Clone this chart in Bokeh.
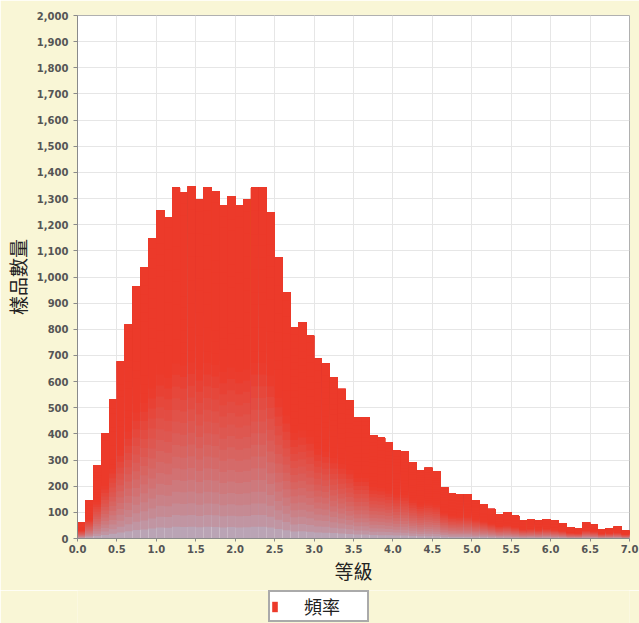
import numpy as np
from bokeh.plotting import figure
from bokeh.layouts import column
from bokeh.models import (ColumnDataSource, Legend, LegendItem, NumeralTickFormatter,
                          SingleIntervalTicker, Range1d)
from bokeh.embed import file_html
from bokeh.resources import INLINE

# ---- data ----
bin_left = [0.0, 0.1, 0.2, 0.3, 0.4, 0.5, 0.6, 0.7, 0.8, 0.9,
            1.0, 1.1, 1.2, 1.3, 1.4, 1.5, 1.6, 1.7, 1.8, 1.9,
            2.0, 2.1, 2.2, 2.3, 2.4, 2.5, 2.6, 2.7, 2.8, 2.9,
            3.0, 3.1, 3.2, 3.3, 3.4, 3.5, 3.6, 3.7, 3.8, 3.9,
            4.0, 4.1, 4.2, 4.3, 4.4, 4.5, 4.6, 4.7, 4.8, 4.9,
            5.0, 5.1, 5.2, 5.3, 5.4, 5.5, 5.6, 5.7, 5.8, 5.9,
            6.0, 6.1, 6.2, 6.3, 6.4, 6.5, 6.6, 6.7, 6.8, 6.9]
bin_width = 0.1
counts = [62, 145, 279, 401, 532, 678, 818, 965, 1038, 1148,
          1254, 1229, 1341, 1324, 1347, 1295, 1343, 1328, 1273, 1308,
          1273, 1295, 1343, 1343, 1248, 1076, 942, 808, 827, 776,
          687, 668, 617, 572, 528, 464, 464, 394, 387, 368,
          337, 334, 292, 260, 270, 256, 196, 173, 168, 168,
          147, 132, 113, 94, 100, 87, 71, 74, 68, 74,
          68, 58, 42, 40, 61, 53, 36, 40, 45, 30]
series_name = "頻率"
x_label = "等級"
y_label = "樣品數量"

# ---- styling ----
RED = np.array([236, 58, 42])
GRAY = np.array([178, 180, 202])
BG = "#F9F6D6"
N = 30

def hexcol(a):
    return "#%02x%02x%02x" % tuple(int(round(k)) for k in a)

L, R, B, T, C = [], [], [], [], []
for x0, v in zip(bin_left, counts):
    for i in range(N):
        fm = (i + 0.5) / N
        w = min(1.0, fm / 0.5) ** 0.6
        L.append(x0)
        R.append(x0 + bin_width)
        B.append(v * i / N)
        T.append(v)
        C.append(hexcol(GRAY + (RED - GRAY) * w))

src = ColumnDataSource(dict(left=L, right=R, bottom=B, top=T, color=C))

p = figure(width=639, height=590, x_range=Range1d(0, 7), y_range=Range1d(0, 2000),
           output_backend="svg", toolbar_location=None,
           min_border_left=77, min_border_right=10, min_border_top=15, min_border_bottom=52)
p.border_fill_color = BG
p.background_fill_color = "white"
p.outline_line_color = "#b0b0b0"

p.quad(left="left", right="right", bottom="bottom", top="top", fill_color="color",
       line_color=None, source=src)

p.xaxis.ticker = SingleIntervalTicker(interval=0.5, num_minor_ticks=0)
p.yaxis.ticker = SingleIntervalTicker(interval=100, num_minor_ticks=0)
p.xaxis.formatter = NumeralTickFormatter(format="0.0")
p.yaxis.formatter = NumeralTickFormatter(format="0,0")

for ax in (p.xaxis[0], p.yaxis[0]):
    ax.axis_line_color = "#8a8a8a"
    ax.major_tick_line_color = "#8a8a8a"
    ax.minor_tick_line_color = None
    ax.major_tick_in = 0
    ax.major_label_text_font = "DejaVu Sans"
    ax.major_label_text_font_style = "bold"
    ax.major_label_text_font_size = "10px"
    ax.major_label_text_color = "#555555"
    ax.axis_label_text_font = "Noto Sans CJK TC"
    ax.axis_label_text_font_style = "normal"
    ax.axis_label_text_font_size = "19px"
    ax.axis_label_text_color = "#222222"

p.xaxis.major_tick_out = 3
p.xaxis.major_label_standoff = 3
p.xaxis.axis_label_standoff = 1
p.yaxis.major_tick_out = 4
p.yaxis.major_label_standoff = 5
p.yaxis.axis_label_standoff = 3
p.xaxis.axis_label = x_label
p.yaxis.axis_label = y_label

p.xgrid.grid_line_color = "#e6e6e6"
p.ygrid.grid_line_color = "#e6e6e6"

# ---- legend strip below the chart ----
lg = figure(width=639, height=33, x_range=Range1d(0, 1), y_range=Range1d(0, 1),
            output_backend="svg", toolbar_location=None,
            x_axis_location=None, y_axis_location=None,
            min_border_left=0, min_border_right=0, min_border_top=0, min_border_bottom=0)
lg.border_fill_color = BG
lg.background_fill_color = BG
lg.outline_line_color = None
lg.grid.visible = False
# legend proxy (kept outside the visible range of the strip)
proxy = ColumnDataSource(dict(left=[2.0], right=[3.0], bottom=[2.0], top=[3.0]))
leg_r = lg.quad(left="left", right="right", bottom="bottom", top="top", source=proxy,
                fill_color=hexcol(RED), line_color=None)

legend = Legend(items=[LegendItem(label=series_name, renderers=[leg_r])],
                location=(191, 1), orientation="vertical",
                padding=1, spacing=0, margin=0,
                glyph_width=7, glyph_height=13, label_height=18, label_width=62,
                label_standoff=26,
                label_text_font="Noto Sans CJK TC", label_text_font_size="18px",
                label_text_color="#222222",
                border_line_color="#555555", border_line_width=2,
                background_fill_color="white", background_fill_alpha=1.0)
lg.add_layout(legend, "center")

layout = column(p, lg, spacing=0)
open("out.html", "w").write(file_html(layout, INLINE))
